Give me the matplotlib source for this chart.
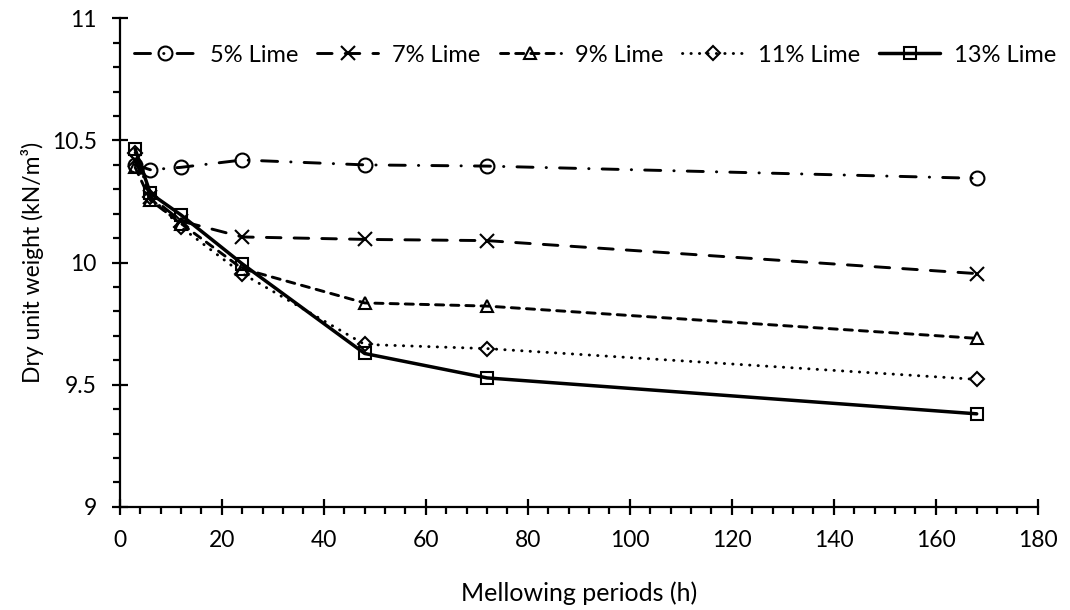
import matplotlib
matplotlib.use("Agg")
import matplotlib.pyplot as plt
from matplotlib.ticker import MultipleLocator

# mellowing time in hours
hours = [3, 6, 12, 24, 48, 72, 168]

# dry unit weight (kN/m3) for each lime content
lime5 = [10.40, 10.38, 10.39, 10.42, 10.40, 10.395, 10.345]
lime7 = [10.42, 10.27, 10.17, 10.105, 10.095, 10.09, 9.955]
lime9 = [10.39, 10.255, 10.16, 9.975, 9.835, 9.822, 9.69]
lime11 = [10.45, 10.27, 10.145, 9.955, 9.665, 9.648, 9.522]
lime13 = [10.465, 10.283, 10.195, 9.995, 9.628, 9.528, 9.381]

labels = ["5% Lime", "7% Lime", "9% Lime", "11% Lime", "13% Lime"]

plt.rcParams['font.family'] = ['Lato', 'DejaVu Sans']
plt.rcParams['font.size'] = 16.5

fig = plt.figure(figsize=(10.7, 6.1), dpi=100)
ax = fig.add_axes([0.112, 0.169, 0.858, 0.801])

common = dict(color='black', fillstyle='none', markeredgewidth=1.5,
              dash_capstyle='round', solid_capstyle='round')

ax.plot(hours, lime5, marker='o', markersize=10, lw=2.1,
        linestyle=(0, (5.5, 4.5, 0.1, 4.5)), label=labels[0], **common)
ax.plot(hours, lime7, marker='x', markersize=10, lw=2.1,
        linestyle=(0, (5, 4.5)), label=labels[1], **common)
ax.plot(hours, lime9, marker='^', markersize=9, lw=2.1,
        linestyle=(0, (2.8, 2.4)), label=labels[2], **common)
ax.plot(hours, lime11, marker='D', markersize=7, lw=2.1,
        linestyle=(0, (0.1, 2.8)), label=labels[3], **common)
ax.plot(hours, lime13, marker='s', markersize=9, lw=2.5,
        linestyle='-', label=labels[4], **common)

ax.set_xlim(0, 180)
ax.set_ylim(9, 11)
ax.xaxis.set_major_locator(MultipleLocator(20))
ax.xaxis.set_minor_locator(MultipleLocator(4))
ax.yaxis.set_minor_locator(MultipleLocator(0.1))
ax.set_yticks([9, 9.5, 10, 10.5, 11])
ax.set_yticklabels(['9', '9.5', '10', '10.5', '11'])

for side in ('top', 'right'):
    ax.spines[side].set_visible(False)
for side in ('left', 'bottom'):
    ax.spines[side].set_linewidth(1.6)

ax.tick_params(which='major', direction='inout', length=11, width=1.6, pad=11)
ax.tick_params(which='minor', direction='out', length=5, width=1.6)

ax.set_xlabel('Mellowing periods (h)', fontsize=18, labelpad=22)
ax.set_ylabel('Dry unit weight (kN/m³)', labelpad=6)

ax.legend(loc='upper left', bbox_to_anchor=(0.0, 0.975), ncol=5,
          frameon=False, fontsize=17, handlelength=2.6, handletextpad=0.6,
          columnspacing=0.8, borderaxespad=0.2)

fig.savefig('out.png', dpi=100)
